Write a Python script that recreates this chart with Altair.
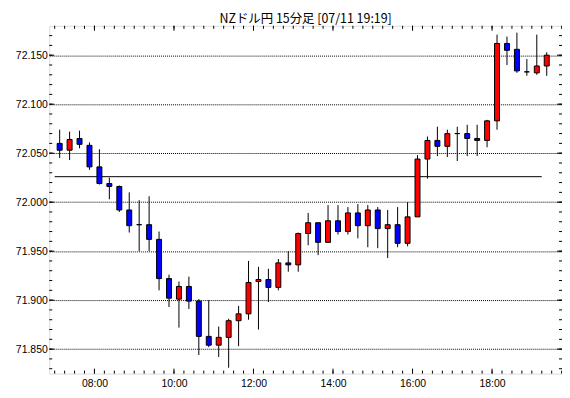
import altair as alt
import pandas as pd
import numpy as np

# ---- data (15-minute candles, NZD/JPY) ----
times = ["07:00", "07:15", "07:30", "07:45", "08:00", "08:15", "08:30", "08:45",
         "09:00", "09:15", "09:30", "09:45", "10:00", "10:15", "10:30", "10:45",
         "11:00", "11:15", "11:30", "11:45", "12:00", "12:15", "12:30", "12:45",
         "13:00", "13:15", "13:30", "13:45", "14:00", "14:15", "14:30", "14:45",
         "15:00", "15:15", "15:30", "15:45", "16:00", "16:15", "16:30", "16:45",
         "17:00", "17:15", "17:30", "17:45", "18:00", "18:15", "18:30", "18:45",
         "19:00", "19:15"]
opens = [72.060, 72.053, 72.065, 72.058, 72.036, 72.019, 72.016, 71.992,
         71.977, 71.977, 71.962, 71.922, 71.901, 71.914, 71.899, 71.863,
         71.854, 71.862, 71.879, 71.886, 71.919, 71.921, 71.913, 71.938,
         71.936, 71.968, 71.979, 71.959, 71.981, 71.970, 71.989, 71.976,
         71.992, 71.973, 71.977, 71.958, 71.985, 72.044, 72.063, 72.057,
         72.070, 72.070, 72.065, 72.063, 72.083, 72.162, 72.156, 72.133,
         72.132, 72.139]
highs = [72.074, 72.072, 72.073, 72.061, 72.054, 72.025, 72.017, 72.010,
         72.002, 72.006, 71.970, 71.926, 71.919, 71.924, 71.901, 71.900,
         71.873, 71.881, 71.894, 71.940, 71.934, 71.932, 71.942, 71.950,
         71.969, 71.989, 71.979, 71.997, 71.997, 71.995, 71.998, 71.997,
         71.995, 71.992, 71.995, 72.000, 72.048, 72.067, 72.077, 72.074,
         72.077, 72.079, 72.079, 72.084, 72.171, 72.169, 72.173, 72.146,
         72.171, 72.153]
lows = [72.045, 72.043, 72.055, 72.033, 72.018, 72.003, 71.990, 71.969,
        71.950, 71.950, 71.910, 71.893, 71.872, 71.891, 71.844, 71.852,
        71.842, 71.831, 71.853, 71.880, 71.870, 71.898, 71.910, 71.929,
        71.929, 71.956, 71.946, 71.959, 71.967, 71.967, 71.963, 71.954,
        71.953, 71.943, 71.954, 71.955, 71.985, 72.024, 72.047, 72.046,
        72.042, 72.047, 72.047, 72.056, 72.074, 72.140, 72.132, 72.129,
        72.130, 72.129]
closes = [72.053, 72.064, 72.059, 72.036, 72.019, 72.016, 71.992, 71.976,
          71.977, 71.962, 71.922, 71.902, 71.914, 71.899, 71.863, 71.854,
          71.862, 71.879, 71.886, 71.918, 71.921, 71.913, 71.938, 71.936,
          71.968, 71.979, 71.959, 71.981, 71.970, 71.989, 71.976, 71.992,
          71.973, 71.977, 71.958, 71.985, 72.044, 72.063, 72.057, 72.070,
          72.070, 72.065, 72.063, 72.083, 72.162, 72.155, 72.134, 72.133,
          72.139, 72.150]

ref_start, ref_end, ref_level = "07:00", "19:15", 72.026
title_text = "NZドル円 15分足 [07/11 19:19]"
x_label_hours = [8, 10, 12, 14, 16, 18]
y_label_values = [71.85, 71.90, 71.95, 72.00, 72.05, 72.10, 72.15]
x_domain = [6.863, 19.759]
y_domain = [71.825, 72.180]


def to_h(s):
    hh, mm = s.split(":")
    return int(hh) + int(mm) / 60.0


W, H = 516, 350
FONT = "Liberation Sans"
xs = alt.Scale(domain=x_domain, nice=False, zero=False, padding=0)
ys = alt.Scale(domain=y_domain, nice=False, zero=False, padding=0)

df = pd.DataFrame({"time": times, "open": opens, "high": highs,
                   "low": lows, "close": closes})
df["mid"] = [to_h(t) + 0.125 for t in times]
df["dir"] = np.where(df["close"] > df["open"], "up",
                     np.where(df["close"] < df["open"], "down", "flat"))

x_axis = alt.Axis(values=x_label_hours,
                  labelExpr="(datum.value < 10 ? '0' : '') + datum.value + ':00'",
                  ticks=False, tickSize=0, domain=False, grid=False,
                  labelPadding=5, labelFont=FONT, labelFontSize=10.5,
                  labelColor="black", title=None)
y_axis = alt.Axis(values=y_label_values, format=".3f", ticks=False, tickSize=0,
                  domain=False, grid=True, gridDash=[1, 1], gridColor="black",
                  gridOpacity=1, gridWidth=1, labelPadding=2, labelFont=FONT,
                  labelFontSize=10.5, labelColor="black", title=None)


def X(field):
    return alt.X(field, scale=xs, axis=x_axis)


def Y(field):
    return alt.Y(field, scale=ys, axis=y_axis)


wicks = alt.Chart(df).mark_rule(color="black", strokeWidth=1).encode(
    x=X("mid:Q"), y=Y("low:Q"), y2="high:Q",
)

bodies = alt.Chart(df).mark_bar(size=5, stroke="black", strokeWidth=1).encode(
    x=X("mid:Q"), y=Y("open:Q"), y2="close:Q",
    color=alt.Color("dir:N",
                    scale=alt.Scale(domain=["up", "down", "flat"],
                                    range=["#ff0000", "#0000ff", "#000000"]),
                    legend=None),
)

ref_df = pd.DataFrame({"x": [to_h(ref_start)], "x2": [to_h(ref_end)], "y": [ref_level]})
ref_line = alt.Chart(ref_df).mark_rule(color="black", strokeWidth=1).encode(
    x=X("x:Q"), x2="x2:Q", y=Y("y:Q"),
)

# tick marks (pointing inward on all four sides)
x_minor = pd.DataFrame({"t": np.arange(7.0, 19.76, 0.25)})
x_major = pd.DataFrame({"t": x_label_hours})
y_minor = pd.DataFrame({"v": np.round(np.arange(71.83, 72.175, 0.01), 2)})
y_major = pd.DataFrame({"v": y_label_values})


def xticks(d, length, top):
    if top:
        yy, yy2 = alt.value(0), alt.value(length)
    else:
        yy, yy2 = alt.value(H - length), alt.value(H)
    return alt.Chart(d).mark_rule(color="black", strokeWidth=1).encode(
        x=X("t:Q"), y=yy, y2=yy2)


def yticks(d, length, right):
    if right:
        xx, xx2 = alt.value(W - length), alt.value(W)
    else:
        xx, xx2 = alt.value(0), alt.value(length)
    return alt.Chart(d).mark_rule(color="black", strokeWidth=1).encode(
        y=Y("v:Q"), x=xx, x2=xx2)


ticks = [xticks(x_minor, 3, False), xticks(x_minor, 3, True),
         xticks(x_major, 5, False), xticks(x_major, 5, True),
         yticks(y_minor, 3, False), yticks(y_minor, 3, True),
         yticks(y_major, 5, False), yticks(y_major, 5, True)]

chart = alt.layer(wicks, ref_line, bodies, *ticks).properties(
    width=W, height=H,
    title=alt.Title(title_text, font="Noto Sans CJK JP", fontSize=12.5,
                    fontWeight="normal", anchor="middle", color="black", offset=0),
    padding={"left": 41.5, "top": 16.7, "right": 0, "bottom": 22},
    autosize=alt.AutoSizeParams(type="none"),
).configure_view(stroke="black", strokeWidth=1).configure(background="white")

chart.save("out.html", embed_options={"renderer": "svg", "actions": False})
